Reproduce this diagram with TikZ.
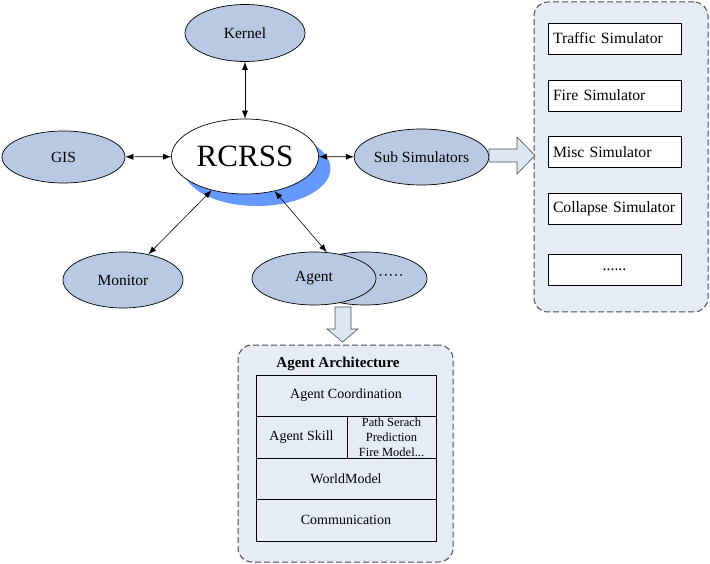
\documentclass[tikz,border=0pt]{standalone}
\usepackage{fontspec}
\setmainfont{Liberation Serif}
\usetikzlibrary{shapes.geometric, shadows, arrows.meta}
\definecolor{ellfill}{RGB}{185,201,227}
\definecolor{panelfill}{RGB}{230,236,246}
\definecolor{arrowfill}{RGB}{221,230,243}
\definecolor{shadowblue}{RGB}{102,153,255}

\begin{document}
\begin{tikzpicture}[x=1pt, y=-1pt,
    ell/.style={ellipse, draw, fill=ellfill, inner sep=0pt, line width=0.7pt,
        minimum width=122pt, minimum height=55pt, font=\fontsize{15.5}{18}\selectfont},
    link/.style={{Latex[length=8pt,width=6pt]}-{Latex[length=8pt,width=6pt]}, line width=0.6pt},
    panel/.style={draw=black!70, dash pattern=on 6pt off 3pt, fill=panelfill,
        rounded corners=14pt, line width=1pt},
    simbox/.style={draw, fill=white, minimum height=31pt, text width=126pt, inner xsep=3.5pt,
        align=left, line width=0.7pt, font=\fontsize{15.7}{18}\selectfont},
    layer/.style={draw, inner sep=0pt, line width=0.7pt, font=\fontsize{14}{16}\selectfont},
    bigarrow/.style={draw=black!70, fill=arrowfill, line width=0.6pt}]
    \useasboundingbox (0,0) rectangle (710,564);

    % simulators on the right
    \node[panel, minimum width=174pt, minimum height=310pt] (simpanel) at (621,157) {};
    \node[simbox] (traffic) at (614.5,38.5) {\hspace{1.5pt}Traffic Simulator};
    \node[simbox] (fire) at (614.5,95.5) {\hspace{1.5pt}Fire Simulator};
    \node[simbox] (misc) at (614.5,152) {\hspace{1.5pt}Misc Simulator};
    \node[simbox] (collapse) at (614.5,209) {\hspace{1.5pt}Collapse Simulator};
    \node[simbox, align=center] (moresim) at (614.5,269.5) {......};

    % kernel and its clients
    \node[ellipse, draw, fill=white, inner sep=0pt, line width=0.7pt,
        minimum width=147pt, minimum height=75pt, font=\fontsize{31}{36}\selectfont,
        drop shadow={shadow xshift=12pt, shadow yshift=-12pt, fill=shadowblue, opacity=1}]
        (rc) at (245,156.5) {RCRSS};
    \node[ell, minimum width=120pt, minimum height=57pt] (kernel) at (245,33) {Kernel};
    \node[ell, minimum width=123pt, minimum height=52pt] (gis) at (63.5,157) {GIS};
    \node[ell, minimum width=131pt, minimum height=56pt] (sub) at (421.5,157) {Sub Simulators};
    \node[ell, minimum width=120pt, minimum height=56pt] (monitor) at (123,280) {Monitor};
    \node[ell, minimum width=124pt, minimum height=53pt] (more) at (365,278.5) {};
    \node[font=\fontsize{15.5}{18}\selectfont] (dots) at (391,277) {·····};
    \node[ell, minimum width=124pt, minimum height=53pt] (agent) at (314,278.5) {Agent};

    \draw[link] (kernel) -- (rc);
    \draw[link] (gis) -- (rc);
    \draw[link] (rc) -- (sub);
    \draw[link] (rc) -- (monitor);
    \draw[link] (rc) -- (agent.64);

    % block arrows
    \draw[bigarrow] (489,149) -- (517,149) -- (517,137) -- (535,155.5) -- (517,174)
        -- (517,162) -- (489,162) -- cycle;
    \draw[bigarrow] (335,307) -- (351,307) -- (351,329) -- (358,329) -- (342.5,342)
        -- (327,329) -- (335,329) -- cycle;

    % agent architecture
    \node[panel, minimum width=215pt, minimum height=217pt] (agpanel) at (345.5,453.5) {};
    \node[font=\bfseries\fontsize{15}{18}\selectfont] (title) at (338,364) {Agent Architecture};
    \node[layer, minimum width=180pt, minimum height=41pt] (coord) at (346,395.5) {Agent Coordination};
    \node[layer, minimum width=91pt, minimum height=42pt] (skill) at (301.5,437) {Agent Skill};
    \node[layer, minimum width=89pt, minimum height=42pt, align=center,
        font=\fontsize{12.5}{15}\selectfont] (paths) at (391.5,437) {Path Serach\\Prediction\\Fire Model...};
    \node[layer, minimum width=180pt, minimum height=41pt] (world) at (346,478.5) {WorldModel};
    \node[layer, minimum width=180pt, minimum height=42pt] (comm) at (346,520) {Communication};
\end{tikzpicture}
\end{document}
